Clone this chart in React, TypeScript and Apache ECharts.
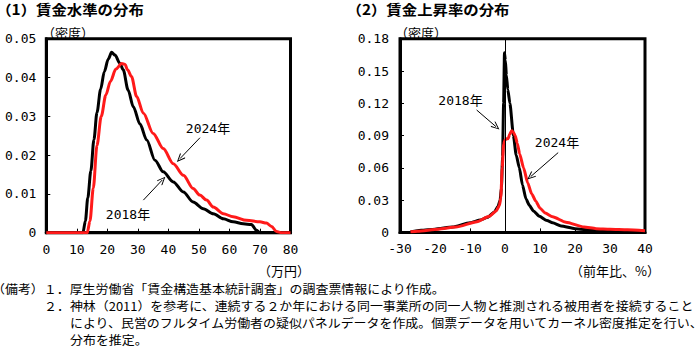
import React, { useEffect, useRef } from "react";
import * as echarts from "echarts";

// (1) wage level distribution (万円 vs density)
const levelX2018 = [0, 12.0, 12.8, 13.6, 14.6, 15.6, 16.6, 17.8, 19.0, 20.3, 21.4, 22.5, 24.1, 25.2, 26.8, 28.5, 30.7, 32.9, 35.6, 38.3, 41.6, 44.9, 48.1, 51.4, 54.7, 58.0, 61.2, 64.5, 67.2, 68.9, 70.0, 80];
const levelY2018 = [0, 0, 0.003, 0.009, 0.016, 0.024, 0.031, 0.037, 0.0415, 0.0448, 0.0465, 0.0458, 0.0437, 0.042, 0.0368, 0.0325, 0.028, 0.0239, 0.0187, 0.0157, 0.0131, 0.0105, 0.0079, 0.0062, 0.0049, 0.0036, 0.0028, 0.0023, 0.0021, 0.0006, 0, 0];
const levelX2024 = [0, 13.4, 14.3, 15.4, 16.6, 18.0, 19.5, 21.0, 22.8, 24.7, 25.8, 26.6, 27.9, 29.6, 31.8, 35.0, 38.3, 41.6, 44.9, 48.1, 50.3, 52.5, 54.7, 58.0, 61.2, 65.6, 70.0, 72.1, 73.8, 75.4, 77.1, 80];
const levelY2024 = [0, 0, 0.003, 0.0115, 0.0225, 0.03, 0.0355, 0.039, 0.0422, 0.0436, 0.0434, 0.042, 0.0403, 0.0351, 0.0308, 0.0256, 0.0217, 0.0178, 0.0148, 0.0114, 0.0097, 0.0084, 0.0066, 0.0049, 0.0041, 0.0032, 0.0028, 0.0025, 0.0016, 0.0003, 0, 0];

// (2) wage growth distribution (前年比% vs density)
const growthX2018 = [-27, -24, -20, -15, -10, -7, -5, -3, -2, -1.4, -1.0, -0.7, -0.4, -0.15, 0.1, 0.4, 0.8, 1.4, 2.4, 3.2, 4.1, 5.0, 6.0, 7.0, 8.1, 9.8, 12, 13.6, 16, 20, 25, 30, 35, 40];
const growthY2018 = [0.0005, 0.002, 0.003, 0.005, 0.009, 0.0115, 0.014, 0.019, 0.024, 0.03, 0.042, 0.07, 0.12, 0.167, 0.16, 0.146, 0.133, 0.12, 0.09, 0.072, 0.06, 0.044, 0.031, 0.025, 0.02, 0.015, 0.011, 0.009, 0.006, 0.0035, 0.002, 0.0015, 0.001, 0.0006];
const growthX2024 = [-27, -25, -19, -14, -8, -4.5, -2.5, -1.6, -1.2, -0.8, -0.4, 0, 0.4, 0.9, 1.3, 1.9, 2.4, 2.9, 3.5, 4.2, 5.3, 6.5, 7.6, 8.8, 10, 11.5, 13.6, 17.4, 22.6, 26, 30, 35, 40];
const growthY2024 = [0.0005, 0.001, 0.003, 0.005, 0.01, 0.015, 0.02, 0.025, 0.032, 0.06, 0.082, 0.086, 0.087, 0.087, 0.091, 0.0945, 0.093, 0.09, 0.083, 0.073, 0.06, 0.046, 0.036, 0.029, 0.0225, 0.018, 0.0145, 0.0095, 0.005, 0.0035, 0.003, 0.0025, 0.0015];

// annotation arrows (data coordinates: [from, to])
const levelArrow2024 = [[50.35, 0.0245], [43.8, 0.0191]];
const levelArrow2018 = [[31.8, 0.0084], [38.0, 0.0136]];
const growthArrow2018 = [[-8.1, 0.1138], [-2.57, 0.0983]];
const growthArrow2024 = [[15.2, 0.0742], [7.34, 0.0519]];

const titles = ["（1）賃金水準の分布", "（2）賃金上昇率の分布"];
const notes = [
  "（備考）１．厚生労働省「賃金構造基本統計調査」の調査票情報により作成。",
  "２．神林（2011）を参考に、連続する２か年における同一事業所の同一人物と推測される被用者を接続すること",
  "により、民営のフルタイム労働者の疑似パネルデータを作成。個票データを用いてカーネル密度推定を行い、",
  "分布を推定。",
];

const zip = (xs: number[], ys: number[]) => xs.map((x, i) => [x, ys[i]]);

const NUM_FONT = "'DejaVu Sans Mono', 'Noto Sans CJK JP', sans-serif";
const JP_FONT = "'Noto Sans CJK JP', sans-serif";
const ARROW = "path://M5,0 L10,9 L9,10 L5,2.5 L1,10 L0,9 Z";

const fmt = (v: number) => (v === 0 ? "0" : v.toFixed(2));

export default function App() {
  const ref = useRef<HTMLDivElement>(null);
  useEffect(() => {
    if (!ref.current) return;
    const chart = echarts.init(ref.current, undefined, { renderer: "svg" });
    const axisLabel = { color: "#000", fontFamily: NUM_FONT, fontSize: 13, margin: 10 };
    const axisLine = { show: true, onZero: false, lineStyle: { color: "#000", width: 3 } };
    const axisTick = { show: true, inside: true, length: 4, lineStyle: { color: "#000", width: 1 } };
    const arrowLine = (segs: number[][][]) => ({
      silent: true,
      symbol: ["none", ARROW],
      symbolSize: [7, 9],
      lineStyle: { color: "#000", width: 1, type: "solid" },
      label: { show: false },
      emphasis: { disabled: true },
      data: segs.map((s) => [{ coord: s[0] }, { coord: s[1] }]),
    });
    const txt = (text: string, x: number, y: number, font: string, align = "center", scaleX = 1) => ({
      type: "text",
      x,
      y,
      scaleX,
      silent: true,
      style: { text, font, fill: "#000", align, verticalAlign: "middle" },
    });
    const option: any = {
      animation: false,
      backgroundColor: "#fff",
      grid: [
        { left: 46.3, top: 38.8, width: 244.2, height: 193.9, show: true, borderColor: "#000", borderWidth: 3, backgroundColor: "transparent" },
        { left: 400, top: 38.8, width: 245, height: 193.6, show: true, borderColor: "#000", borderWidth: 3, backgroundColor: "transparent" },
      ],
      xAxis: [
        { gridIndex: 0, type: "value", min: 0, max: 80, interval: 10, axisLine, axisTick, axisLabel, splitLine: { show: false } },
        { gridIndex: 1, type: "value", min: -30, max: 40, interval: 10, axisLine, axisTick, axisLabel, splitLine: { show: false } },
      ],
      yAxis: [
        { gridIndex: 0, type: "value", min: 0, max: 0.05, interval: 0.01, axisLine, axisTick, axisLabel: { ...axisLabel, formatter: fmt }, splitLine: { show: false } },
        { gridIndex: 1, type: "value", min: 0, max: 0.18, interval: 0.03, axisLine, axisTick, axisLabel: { ...axisLabel, margin: 11, formatter: fmt }, splitLine: { show: false } },
      ],
      series: [
        {
          name: "2018年", type: "line", xAxisIndex: 0, yAxisIndex: 0, data: zip(levelX2018, levelY2018),
          showSymbol: false, smooth: 0.3, smoothMonotone: "x", lineStyle: { color: "#000", width: 3 },
          markLine: arrowLine([levelArrow2024, levelArrow2018]),
        },
        {
          name: "2024年", type: "line", xAxisIndex: 0, yAxisIndex: 0, data: zip(levelX2024, levelY2024),
          showSymbol: false, smooth: 0.3, smoothMonotone: "x", lineStyle: { color: "#ff1a1a", width: 3 },
        },
        {
          name: "2018年", type: "line", xAxisIndex: 1, yAxisIndex: 1, data: zip(growthX2018, growthY2018),
          showSymbol: false, smooth: 0.2, smoothMonotone: "x", lineStyle: { color: "#000", width: 3 },
          markLine: arrowLine([growthArrow2018, growthArrow2024]),
        },
        {
          name: "2024年", type: "line", xAxisIndex: 1, yAxisIndex: 1, data: zip(growthX2024, growthY2024),
          showSymbol: false, smooth: 0.2, smoothMonotone: "x", lineStyle: { color: "#ff1a1a", width: 3 },
          markLine: {
            silent: true, symbol: "none", label: { show: false }, emphasis: { disabled: true },
            lineStyle: { color: "#000", width: 1, type: "solid" },
            data: [{ xAxis: 0 }],
          },
        },
      ],
      graphic: [
        txt(titles[0], 70, 9, `bold 14px ${JP_FONT}`, "center", 1.1),
        txt(titles[1], 428, 9, `bold 14px ${JP_FONT}`, "center", 1.1),
        txt("（密度）", 68, 32, `13px ${JP_FONT}`),
        txt("（密度）", 421, 32, `13px ${JP_FONT}`),
        txt("2024年", 208, 128, `13px ${NUM_FONT}`),
        txt("2018年", 128, 214, `13px ${NUM_FONT}`),
        txt("2018年", 460.5, 100, `13px ${NUM_FONT}`),
        txt("2024年", 557, 142, `13px ${NUM_FONT}`),
        txt("（万円）", 284, 270, `13px ${JP_FONT}`),
        txt("（前年比、%）", 615, 270, `13px ${JP_FONT}`),
        txt(notes[0], -8, 289.5, `12px ${JP_FONT}`, "left", 1.08),
        txt(notes[1], 44, 306.5, `12px ${JP_FONT}`, "left", 1.08),
        txt(notes[2], 70, 323.5, `12px ${JP_FONT}`, "left", 1.08),
        txt(notes[3], 70, 340, `12px ${JP_FONT}`, "left", 1.08),
      ],
    };
    chart.setOption(option);
    return () => chart.dispose();
  }, []);
  return (
    <div
      ref={ref}
      style={{ position: "absolute", left: 0, top: 0, width: 700, height: 347, background: "#fff" }}
    />
  );
}
